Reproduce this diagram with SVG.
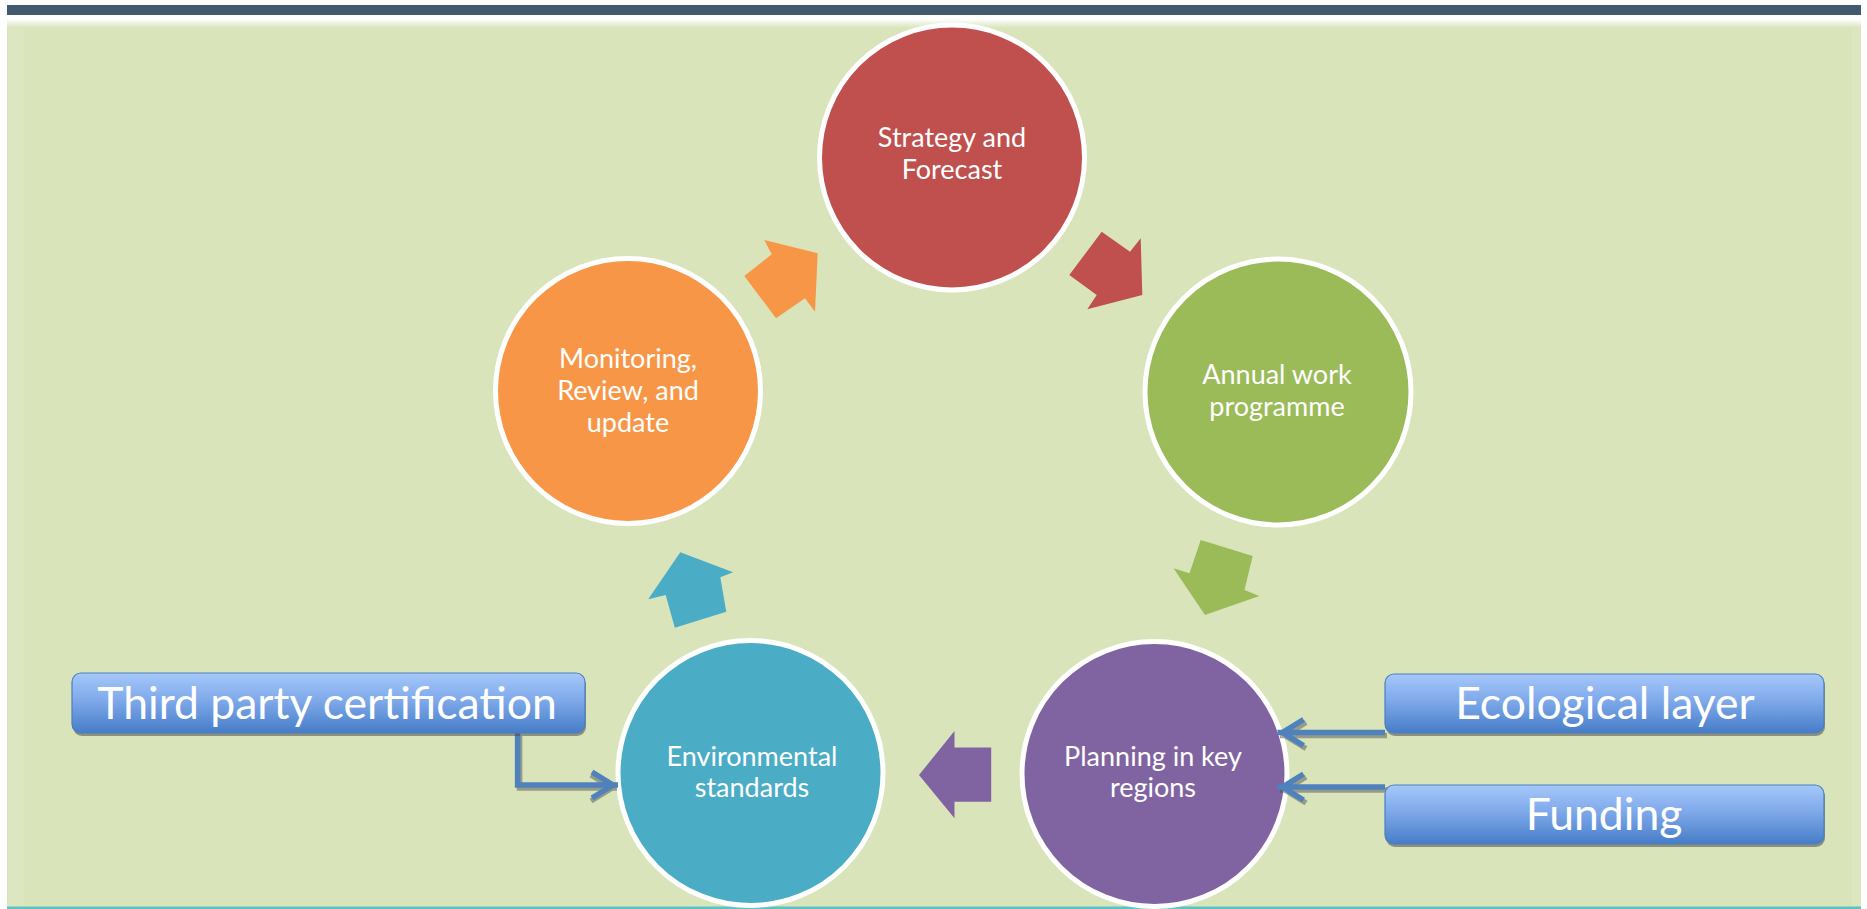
<svg xmlns="http://www.w3.org/2000/svg" width="1867" height="909" viewBox="0 0 1867 909">
  <defs>
    <linearGradient id="boxGrad" x1="0" y1="0" x2="0" y2="1">
      <stop offset="0" stop-color="#A6C8FA"/>
      <stop offset="0.45" stop-color="#7FA9EA"/>
      <stop offset="1" stop-color="#467DC8"/>
    </linearGradient>
    <linearGradient id="topFade" x1="0" y1="0" x2="0" y2="1">
      <stop offset="0" stop-color="#FFFFFF"/>
      <stop offset="1" stop-color="#D9E4BB"/>
    </linearGradient>
    <marker id="openHead" markerUnits="userSpaceOnUse" markerWidth="34" markerHeight="34" viewBox="-30 -17 34 34" refX="0" refY="0" orient="auto">
      <path d="M-26,-13 L-5,0 L-26,13" fill="none" stroke="#4F81BD" stroke-width="5.5" stroke-linejoin="miter" stroke-miterlimit="10"/>
    </marker>
    <marker id="openHeadShadow" markerUnits="userSpaceOnUse" markerWidth="34" markerHeight="34" viewBox="-30 -17 34 34" refX="0" refY="0" orient="auto">
      <path d="M-26,-13 L-5,0 L-26,13" fill="none" stroke="#555555" stroke-width="5.5" stroke-linejoin="miter" stroke-miterlimit="10"/>
    </marker>
  </defs>
  <style>
    .ring { stroke: #FFFFFF; stroke-width: 5; }
    .ctext { font-family: Lato, "Liberation Sans", sans-serif; font-size: 27px; fill: #FFFFFF; text-anchor: middle; }
    .btext { font-family: Lato, "Liberation Sans", sans-serif; font-size: 44.5px; fill: #FFFFFF; text-anchor: middle; }
    .box { fill: url(#boxGrad); stroke: #4A7EC2; stroke-width: 1.2; }
    .boxShadow { fill: #4d4d4d; opacity: 0.55; }
    .conn { fill: none; stroke: #4F81BD; stroke-width: 5.5; }
    .connShadow { fill: none; stroke: #555555; stroke-width: 5.5; opacity: 0.5; }
  </style>

  <!-- page background -->
  <rect x="0" y="0" width="1867" height="909" fill="#FFFFFF"/>
  <rect x="7" y="5" width="1854" height="10" fill="#415A6D"/>
  <rect x="7" y="19" width="1854" height="890" fill="#D9E4BB"/>
  <rect x="7" y="19" width="1854" height="9" fill="url(#topFade)"/>
  <rect x="8" y="26" width="16" height="880" fill="#DDE7C3" opacity="0.7"/>
  <rect x="1852" y="26" width="8" height="880" fill="#DDE7C3" opacity="0.7"/>
  <rect x="7" y="906.5" width="1854" height="2.5" fill="#5CC2C4"/>

  <!-- cycle arrows -->
  <g id="arrow-red">
    <polygon points="1069.3,275 1101.7,231.7 1130,251.7 1140.7,238.3 1142.3,295 1087.3,309.3 1096.7,295" fill="#C0504D"/>
  </g>
  <g id="arrow-green">
    <polygon points="1200.7,540 1252.7,556 1244.5,590 1259.3,596 1205,615 1173.5,568.3 1189.5,573.3" fill="#9BBB59"/>
  </g>
  <g id="arrow-purple">
    <polygon points="919,775 954.5,731 954.5,747.5 991.2,747.5 991.2,801.7 954.5,801.7 954.5,818.3" fill="#8064A2"/>
  </g>
  <g id="arrow-teal">
    <polygon points="674.8,627.7 726.3,611.7 720.3,577.3 733.1,572.3 680.3,552.3 648.2,599.3 665.7,595" fill="#4BACC6"/>
  </g>
  <g id="arrow-orange">
    <polygon points="776,318.3 744.3,276 771.7,254.3 764.3,240 817.7,253.3 815,311.7 805,298.3" fill="#F79646"/>
  </g>

  <!-- cycle nodes -->
  <g id="node-strategy">
    <circle class="ring" cx="952" cy="157.5" r="132.5" fill="#C0504D"/>
    <text class="ctext" x="952" y="147">Strategy and</text>
    <text class="ctext" x="952" y="179">Forecast</text>
  </g>
  <g id="node-annual">
    <circle class="ring" cx="1278" cy="392" r="133" fill="#9BBB59"/>
    <text class="ctext" x="1277" y="384">Annual work</text>
    <text class="ctext" x="1277" y="416">programme</text>
  </g>
  <g id="node-planning">
    <circle class="ring" cx="1154.5" cy="774" r="132.5" fill="#8064A2"/>
    <text class="ctext" x="1153" y="766">Planning in key</text>
    <text class="ctext" x="1153" y="797">regions</text>
  </g>
  <g id="node-environmental">
    <circle class="ring" cx="750.5" cy="773" r="132.5" fill="#4BACC6"/>
    <text class="ctext" x="752" y="766">Environmental</text>
    <text class="ctext" x="752" y="797">standards</text>
  </g>
  <g id="node-monitoring">
    <circle class="ring" cx="628" cy="391" r="132.5" fill="#F79646"/>
    <text class="ctext" x="628" y="368">Monitoring,</text>
    <text class="ctext" x="628" y="400">Review, and</text>
    <text class="ctext" x="628" y="432">update</text>
  </g>

  <!-- connectors -->
  <g id="connectors">
    <path class="connShadow" d="M519.6,736 V788 H617" marker-end="url(#openHeadShadow)"/>
    <path class="connShadow" d="M1387,735.5 H1280" marker-end="url(#openHeadShadow)"/>
    <path class="connShadow" d="M1387,790 H1280" marker-end="url(#openHeadShadow)"/>
    <path class="conn" d="M517.6,733 V785 H618" marker-end="url(#openHead)"/>
    <path class="conn" d="M1385,732.5 H1277.5" marker-end="url(#openHead)"/>
    <path class="conn" d="M1385,787 H1277.5" marker-end="url(#openHead)"/>
  </g>

  <!-- side boxes -->
  <g id="box-third-party">
    <rect class="boxShadow" x="73" y="676" width="513" height="60" rx="9"/>
    <rect class="box" x="72" y="673" width="513" height="60" rx="9"/>
    <text class="btext" x="327" y="719">Third party certification</text>
  </g>
  <g id="box-ecological">
    <rect class="boxShadow" x="1386" y="677" width="439" height="59" rx="9"/>
    <rect class="box" x="1385" y="674" width="439" height="59" rx="9"/>
    <text class="btext" x="1605" y="719">Ecological layer</text>
  </g>
  <g id="box-funding">
    <rect class="boxShadow" x="1386" y="788" width="439" height="59" rx="9"/>
    <rect class="box" x="1385" y="785" width="439" height="59" rx="9"/>
    <text class="btext" x="1604" y="830">Funding</text>
  </g>
</svg>
